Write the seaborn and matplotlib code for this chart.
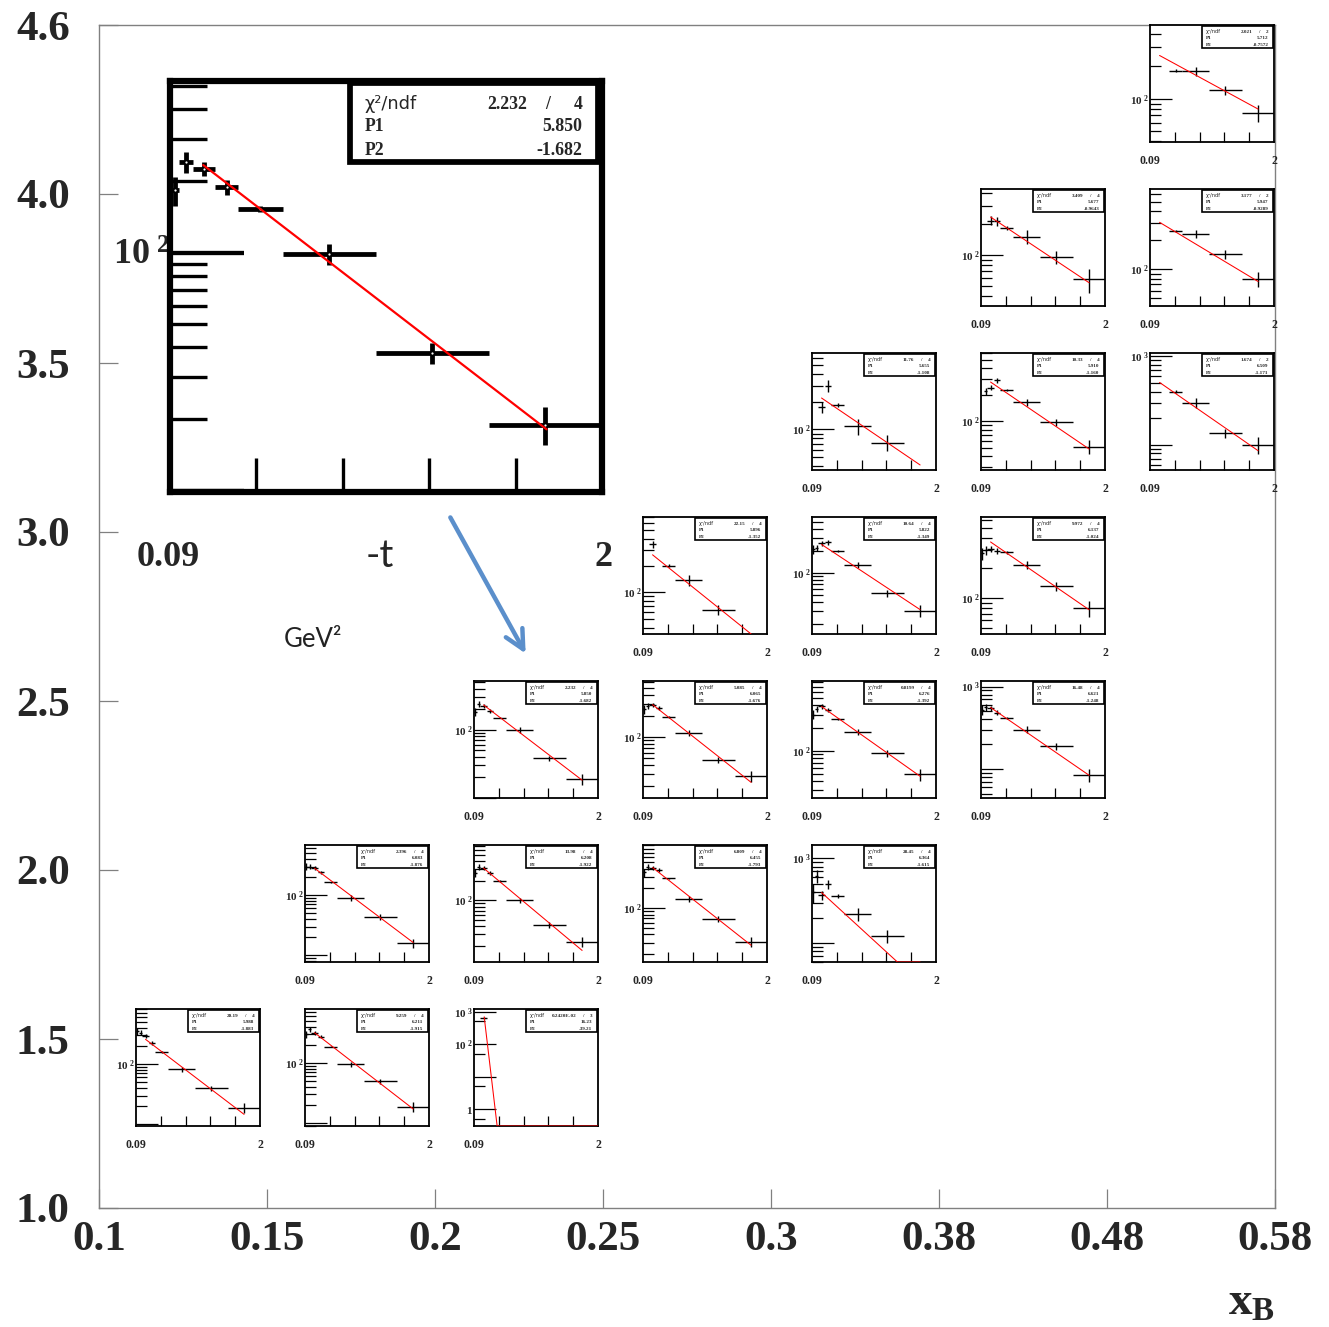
import numpy as np
import matplotlib
matplotlib.use('Agg')
import matplotlib.pyplot as plt
import seaborn as sns
from matplotlib.patches import Rectangle
from matplotlib.ticker import NullFormatter, NullLocator

sns.set_style('white')
plt.rcParams['font.family'] = ['Liberation Serif', 'DejaVu Serif']
plt.rcParams['mathtext.fontset'] = 'custom'
plt.rcParams['mathtext.rm'] = 'Liberation Serif:bold'
plt.rcParams['mathtext.bf'] = 'Liberation Serif:bold'
plt.rcParams['mathtext.it'] = 'Liberation Serif:bold'

# ---------------- data ----------------
xB_labels = ['0.1', '0.15', '0.2', '0.25', '0.3', '0.38', '0.48', '0.58']
Q2_labels = ['1.0', '1.5', '2.0', '2.5', '3.0', '3.5', '4.0', '4.6']

t_lo = [0.09, 0.13, 0.19, 0.29, 0.39, 0.59, 1.0, 1.5]
t_hi = [0.13, 0.19, 0.29, 0.39, 0.59, 1.0, 1.5, 2.0]
t_mid = [0.11, 0.16, 0.24, 0.34, 0.49, 0.795, 1.25, 1.75]
rel_err = [0.14, 0.10, 0.07, 0.07, 0.03, 0.10, 0.10, 0.18]
nan = float('nan')

counts_01 = [350, 330, 290, 220, 159, 82, 39.5, 18.9]
counts_02 = [297, 358, 316, 273, 186, 95, 49.3, 18.8]
counts_03 = [nan, nan, 620, nan, nan, nan, nan, nan]
counts_04 = [300, 300, 283, 239, 164, 90, 43.4, 15.9]
counts_05 = [269, 327, 319, 269, 200, 100, 41.9, 23.3]
counts_06 = [349, 423, 407, 382, 284, 140, 68.5, 31.1]
counts_07 = [400, 622, 367, 500, 357, 220, 121, nan]
counts_08 = [183, 240, 225, 188, 152, 99, 38, 19]
counts_09 = [250, 280, 286, 259, 195, 116, 47, 27.7]
counts_10 = [300, 356, 385, 345, 265, 177, 92.5, 48.9]
counts_11 = [520, 560, 543, 484, 420, 300, 190, 84]
counts_12 = [nan, nan, 345, nan, 198, 137, 64, nan]
counts_13 = [210, 222, 253, 261, 202, 129, 52.7, 30.6]
counts_14 = [280, 300, 312, 298, 285, 215, 132, 79]
counts_15 = [nan, nan, 176, 300, 185, 108, 71.8, nan]
counts_16 = [nan, 220, 242, 292, 229, 165, 97, 51]
counts_17 = [nan, nan, nan, nan, 400, 299, 135, 101]
counts_18 = [nan, nan, 215, 211, 184, 150, 95, 58]
counts_19 = [nan, nan, nan, nan, 251, 233, 144, 80]
counts_20 = [nan, nan, nan, nan, 182, 180, 120, 73.8]
all_counts = [counts_01, counts_02, counts_03, counts_04, counts_05, counts_06, counts_07,
              counts_08, counts_09, counts_10, counts_11, counts_12, counts_13, counts_14,
              counts_15, counts_16, counts_17, counts_18, counts_19, counts_20]

chi2_text = ['20.19', '9.259', '0.2420E-02', '2.396', '13.98', '6.809', '28.45', '2.232',
             '5.085', '0.8199', '16.48', '22.15', '10.64', '9.972', '11.76', '10.33',
             '1.674', '3.409', '3.177', '2.021']
ndf_vals = [4, 4, 3, 4, 4, 4, 4, 4, 4, 4, 4, 4, 4, 4, 4, 4, 2, 4, 2, 2]
P1_vals = [5.988, 6.211, 16.23, 6.083, 6.208, 6.455, 6.364, 5.850, 6.065, 6.276, 6.621,
           5.896, 5.822, 6.137, 5.655, 5.910, 6.509, 5.677, 5.947, 5.712]
P2_vals = [-1.883, -1.915, -39.21, -1.876, -1.922, -1.793, -1.615, -1.682, -1.676, -1.392,
           -1.248, -1.352, -1.349, -1.024, -1.108, -1.160, -1.171, -0.9643, -0.9289, -0.7572]
P1_text = ['5.988', '6.211', '16.23', '6.083', '6.208', '6.455', '6.364', '5.850', '6.065',
           '6.276', '6.621', '5.896', '5.822', '6.137', '5.655', '5.910', '6.509', '5.677',
           '5.947', '5.712']
P2_text = ['-1.883', '-1.915', '-39.21', '-1.876', '-1.922', '-1.793', '-1.615', '-1.682',
           '-1.676', '-1.392', '-1.248', '-1.352', '-1.349', '-1.024', '-1.108', '-1.160',
           '-1.171', '-0.9643', '-0.9289', '-0.7572']
y_ranges = [(9.4, 810), (9.0, 781), (0.30, 1211), (7.7, 686), (11.3, 714), (15.2, 914),
            (60, 1436), (9.9, 525), (13.6, 627), (23.9, 828), (44.5, 1170), (34, 702),
            (14.7, 581), (44, 643), (36, 681), (27.7, 601), (52, 1094), (32, 434),
            (41.8, 679), (39.5, 486)]
labelled_decades = [[100], [100], [1000, 100, 1], [100], [100], [100], [1000], [100], [100],
                    [100], [1000], [100], [100], [100], [100], [100], [1000], [100], [100],
                    [100]]
fit_ranges = [(0.237, 1.755)] * 20
fit_ranges[2] = (0.247, 2.0)
err_scale = [1, 1, 1, 1, 1, 1, 1.8, 1, 1, 1, 1, 1.3, 1, 1, 2.0, 1, 1.2, 1.5, 1, 1]

# layout (grid cell of each small panel)
panel_col = [0, 1, 2, 1, 2, 3, 4, 2, 3, 4, 5, 3, 4, 5, 4, 5, 6, 5, 6, 6]
panel_row = [0, 0, 0, 1, 1, 1, 1, 2, 2, 2, 2, 3, 3, 3, 4, 4, 4, 5, 5, 6]

# ---------------- figure ----------------
W, H = 1329, 1327
fig = plt.figure(figsize=(W / 100, H / 100), dpi=100)


def fx(px):
    return px / W


def fy(py):
    return 1 - py / H


ax = fig.add_axes([fx(99), fy(1208), (1275 - 99) / W, (1208 - 25) / H])
ax.set_xlim(0, 7)
ax.set_ylim(0, 7)
ax.set_xticks(range(8))
ax.set_xticklabels(xB_labels)
ax.set_yticks(range(8))
ax.set_yticklabels(Q2_labels)
for sp in ax.spines.values():
    sp.set_color('#808080')
    sp.set_linewidth(1.0)
ax.tick_params(axis='both', direction='in', length=14, width=0.9, color='#808080',
               labelsize=31, bottom=True, left=True)
ax.tick_params(axis='x', pad=9)
ax.tick_params(axis='y', pad=21)
for lab in ax.get_xticklabels() + ax.get_yticklabels():
    lab.set_fontweight('bold')
ax.set_facecolor('white')


def dec_label(d):
    k = int(round(np.log10(d)))
    if k == 0:
        return r'$1$'
    if k == 1:
        return r'$10$'
    return r'$10^{\ %d}$' % k


def panel(rect, vals, ylim, p1, p2, chi, nd, p1t, p2t, lab_decs, s, fit_rng, esc,
          xlabels=True, fit_lw=0.75):
    a = fig.add_axes(rect)
    a.set_facecolor('white')
    t = np.array(t_mid)
    v = np.array(vals, dtype=float)
    m = np.isfinite(v)
    xl = t - np.array(t_lo)
    xh = np.array(t_hi) - t
    ye = v * np.array(rel_err) * esc
    a.errorbar(t[m], v[m], xerr=[xl[m], xh[m]], yerr=ye[m], fmt='none', ecolor='black',
               elinewidth=1.0 * s, capsize=0, zorder=3)
    if s > 2:
        a.plot(t[m], v[m], 'o', ms=1.6, color='white', mec='none', zorder=3.5)
    tf = np.linspace(fit_rng[0], fit_rng[1], 300)
    yf = np.clip(np.exp(p1 + p2 * tf), ylim[0], ylim[1])
    sns.lineplot(x=tf, y=yf, ax=a, color='red', linewidth=fit_lw, zorder=4)
    a.set_yscale('log')
    a.set_xlim(0.09, 2.0)
    a.set_ylim(*ylim)
    a.set_xlabel('')
    a.set_ylabel('')
    for sp in a.spines.values():
        sp.set_color('black')
        sp.set_linewidth(1.3 * s)
    lo, hi = np.log10(ylim[0]), np.log10(ylim[1])
    ks = range(int(np.floor(lo)) - 1, int(np.ceil(hi)) + 1)
    majors = [10.0 ** k for k in ks if ylim[0] <= 10.0 ** k <= ylim[1]]
    subs = [5] if hi - lo > 3 else [2, 3, 4, 5, 6, 7, 8, 9]
    minors = [mm * 10.0 ** k for k in ks for mm in subs
              if ylim[0] <= mm * 10.0 ** k <= ylim[1]]
    a.set_yticks(majors)
    a.set_yticklabels([dec_label(d) if any(abs(d - l) < 1e-6 * d for l in lab_decs) else ''
                       for d in majors])
    a.set_yticks(minors, minor=True)
    a.yaxis.set_minor_formatter(NullFormatter())
    a.set_xticks([0.09 + 1.91 * k / 5 for k in range(1, 5)])
    a.set_xticklabels([])
    a.xaxis.set_minor_locator(NullLocator())
    a.tick_params(axis='y', which='major', direction='in', length=15.5 * s, width=0.9 * s,
                  color='black', labelsize=8 * s, pad=0.5 * s, left=True)
    a.tick_params(axis='y', which='minor', direction='in', length=7.8 * s, width=0.9 * s,
                  color='black', left=True)
    a.tick_params(axis='x', which='major', direction='in', length=7 * s, width=0.9 * s,
                  color='black', labelbottom=False, bottom=True)
    # stats box
    a.add_patch(Rectangle((0.417, 0.804), 0.573, 0.191, transform=a.transAxes,
                          facecolor='white', edgecolor='black', lw=1.2 * s, zorder=5,
                          clip_on=False))
    fs = 3.7 * s
    a.text(0.45, 0.943, 'χ²/ndf', transform=a.transAxes, fontsize=fs,
           family='DejaVu Sans', va='center', ha='left', zorder=6)
    a.text(0.826, 0.943, chi, transform=a.transAxes, fontsize=fs, weight='bold',
           va='center', ha='right', zorder=6)
    a.text(0.873, 0.943, '/', transform=a.transAxes, fontsize=fs, weight='bold',
           va='center', ha='center', zorder=6)
    a.text(0.945, 0.943, str(nd), transform=a.transAxes, fontsize=fs, weight='bold',
           va='center', ha='center', zorder=6)
    a.text(0.45, 0.889, 'P1', transform=a.transAxes, fontsize=fs, weight='bold',
           va='center', ha='left', zorder=6)
    a.text(0.955, 0.889, p1t, transform=a.transAxes, fontsize=fs, weight='bold',
           va='center', ha='right', zorder=6)
    a.text(0.45, 0.830, 'P2', transform=a.transAxes, fontsize=fs, weight='bold',
           va='center', ha='left', zorder=6)
    a.text(0.955, 0.830, p2t, transform=a.transAxes, fontsize=fs, weight='bold',
           va='center', ha='right', zorder=6)
    if xlabels:
        a.text(0.0, -0.16, '0.09', transform=a.transAxes, fontsize=8.5, weight='bold',
               va='center', ha='center')
        a.text(1.0, -0.16, '2', transform=a.transAxes, fontsize=8.5, weight='bold',
               va='center', ha='center')
    return a


for i in range(20):
    x0 = 135 + 169 * panel_col[i]
    y0 = 1008 - 164 * panel_row[i]
    rect = [fx(x0 + 1), fy(y0 + 118), 124 / W, 117 / H]
    panel(rect, all_counts[i], y_ranges[i], P1_vals[i], P2_vals[i], chi2_text[i],
          ndf_vals[i], P1_text[i], P2_text[i], labelled_decades[i], 1.0, fit_ranges[i],
          err_scale[i])

# magnified copy of the (xB=0.2, Q2=2.5) panel
big = panel([fx(170), fy(492), (602 - 170) / W, (492 - 81) / H], counts_08, y_ranges[7],
            P1_vals[7], P2_vals[7], chi2_text[7], ndf_vals[7], P1_text[7], P2_text[7],
            labelled_decades[7], 3.45, fit_ranges[7], 1.0, xlabels=False, fit_lw=1.6)
big.tick_params(axis='y', which='major', labelsize=26, pad=0)
big.tick_params(axis='y', which='minor', width=2.4)
big.tick_params(axis='x', width=2.4)

fig.text(fx(168), fy(558), '0.09', fontsize=26, weight='bold', ha='center', va='center')
fig.text(fx(603), fy(558), '2', fontsize=26, weight='bold', ha='center', va='center')
fig.text(fx(380), fy(556), '-t', fontsize=28, family='Lato', ha='center', va='center')
fig.text(fx(313), fy(640), 'GeV²', fontsize=18.5, family='Lato', ha='center', va='center',
         color='#222222')
fig.text(fx(1252), fy(1303), r'$\mathbf{x_B}$', fontsize=34, ha='center', va='center')

ax.annotate('', xy=(fx(527), fy(656)), xytext=(fx(449), fy(515)),
            xycoords='figure fraction', textcoords='figure fraction',
            arrowprops=dict(arrowstyle='->', color='#5b8fcb', lw=3.2, mutation_scale=34))

fig.savefig('out.png', dpi=100)
